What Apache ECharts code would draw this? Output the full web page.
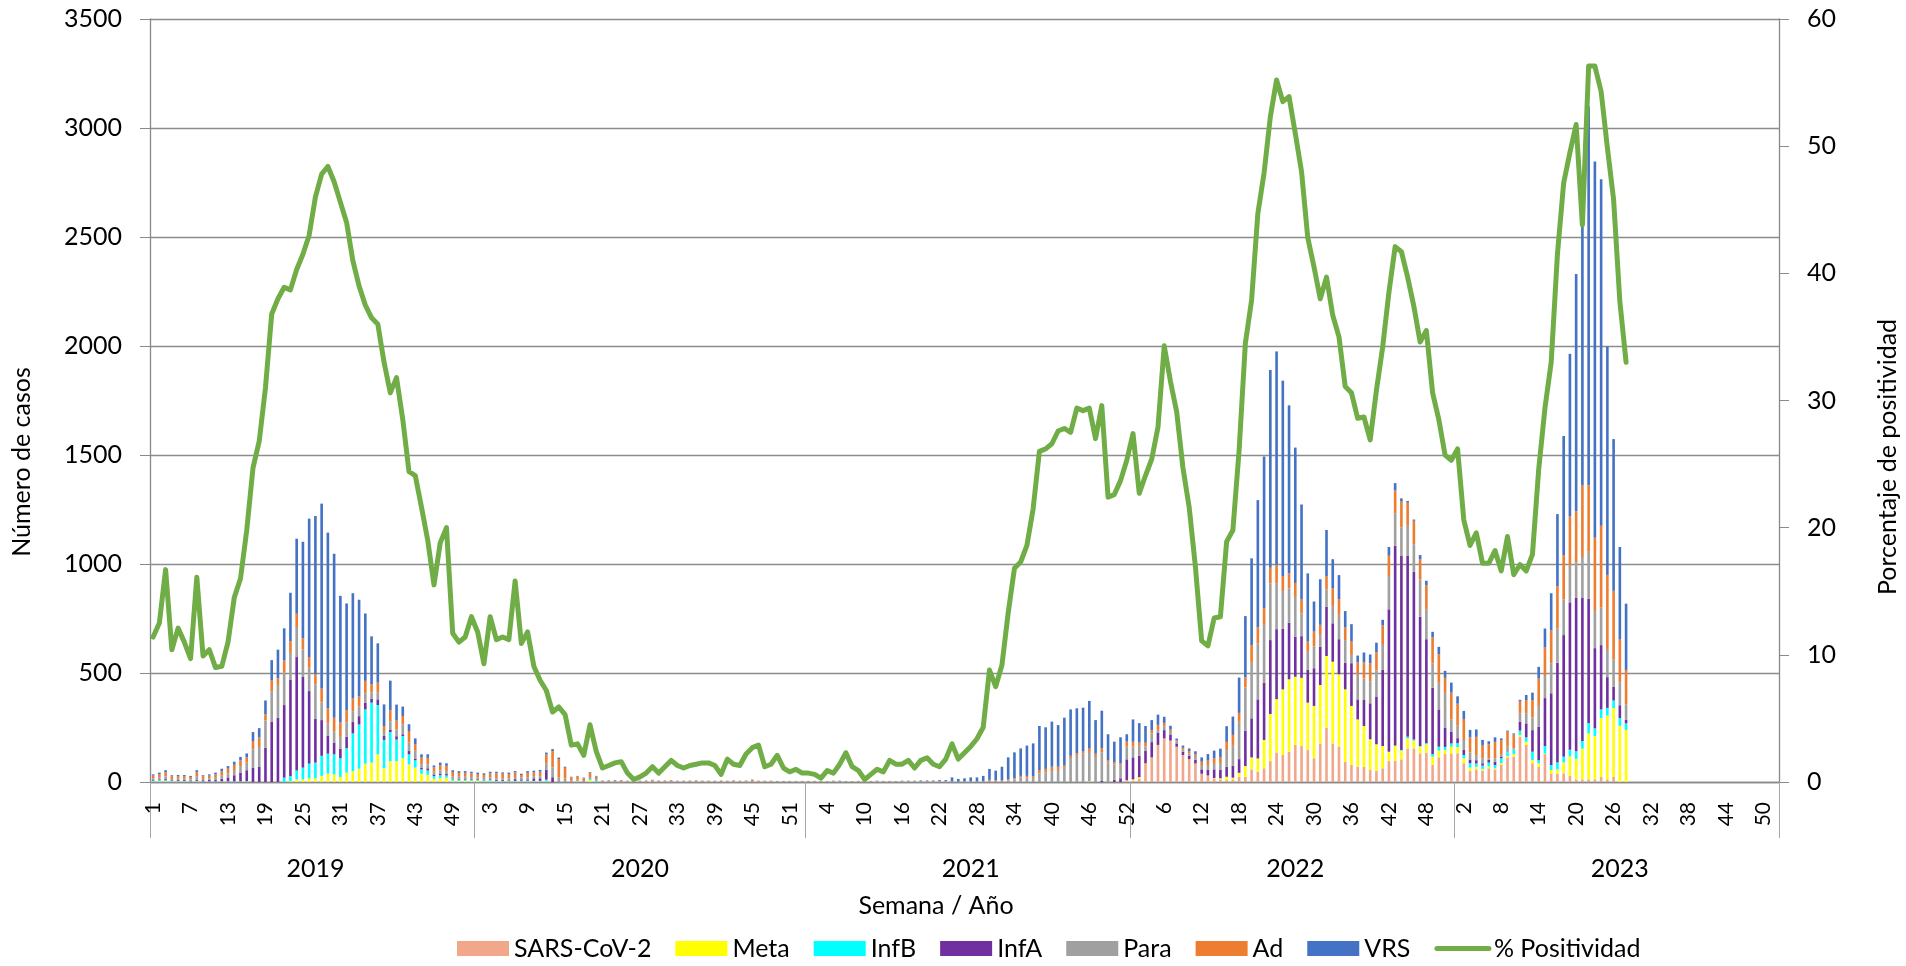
<!DOCTYPE html>
<html>
<head>
<meta charset="utf-8">
<script src="https://cdn.jsdelivr.net/npm/echarts@6/dist/echarts.min.js"></script>
<style>
  html, body { margin: 0; padding: 0; background: #fff; }
  #chart { width: 1906px; height: 966px; }
</style>
</head>
<body>
<div id="chart"></div>
<script>
// años y semanas epidemiológicas del eje x
const years = ['2019', '2020', '2021', '2022', '2023'];
const weeksPerYear = [52, 53, 52, 52, 52];

// casos por semana (2019 sem 1 -> 2023 sem 28), una línea por año
const sarsCov2 = [
  0,0,0,0,0,0,0,0,0,0, 0,0,0,0,0,0,0,0,0,0, 0,0,0,0,0,0,0,0,0,0, 0,0,0,0,0,0,0,0,0,0, 0,0,0,0,0,0,0,0,0,0, 0,0,
  0,0,0,0,0,0,0,0,0,0, 0,0,0,0,0,0,0,0,0,0, 0,0,0,0,0,0,0,0,0,0, 0,0,0,0,0,0,0,0,0,0, 0,0,0,0,0,0,0,0,0,0, 0,0,0,
  0,0,0,0,0,0,0,0,0,0, 0,0,0,0,0,0,0,0,0,0, 0,0,0,0,0,0,0,0,0,0, 0,0,0,0,0,0,0,0,0,0, 0,0,0,0,0,0,0,0,0,0, 0,9,
  6,14,86,113,170,200,190,162,124,105, 85,38,30,15,12,9,12,24,24,58, 47,63,96,135,124,139,170,165,147,109, 177,249,177,162,93,78,70,70,55,52, 63,96,98,104,154,154,131,135,78,113, 128,131,
  132,86,52,58,52,63,58,78,113,116, 208,170,86,70,128,37,37,40,28,12, 12,12,12,23,12,23,0,0
];
const meta = [
  2,3,3,2,2,2,1,2,1,1, 1,1,1,1,1,1,0,0,0,0, 0,0,4,12,12,17,17,28,38,35, 23,43,50,61,84,89,127,63,96,96, 109,81,66,38,33,15,18,20,5,5, 5,5,
  5,3,3,2,2,2,2,2,2,2, 2,3,0,0,0,0,3,0,8,0, 0,0,0,0,0,0,0,0,0,0, 0,0,0,0,0,0,0,0,0,0, 0,0,0,0,0,0,0,0,0,0, 0,0,0,
  0,0,0,0,0,0,0,0,0,0, 0,0,0,0,0,0,0,0,0,0, 0,0,0,0,0,0,0,0,0,0, 0,0,0,0,0,0,0,0,0,0, 0,0,0,0,0,3,0,0,0,0, 0,0,
  6,8,0,0,0,0,0,0,0,0, 0,0,0,3,5,15,8,18,49,55, 61,130,216,245,301,332,313,313,217,240, 268,329,375,332,332,271,217,187,141,121, 102,43,69,40,46,35,31,38,38,31, 18,31,
  28,23,14,12,8,8,5,8,6,12, 8,15,15,15,3,18,21,50,89,94, 141,211,199,270,293,316,258,239
];
const infB = [
  4,5,5,3,3,3,2,3,2,2, 2,2,2,2,2,3,0,0,0,0, 0,20,23,41,54,67,72,92,92,92, 86,112,173,203,249,275,226,130,133,99, 102,46,34,20,20,12,13,10,8,6, 6,5,
  5,5,8,3,3,3,3,4,4,3, 3,8,0,0,0,0,0,0,5,5, 0,0,0,0,0,0,0,0,0,0, 0,0,0,0,0,0,0,0,0,0, 0,0,0,0,0,0,0,0,0,0, 0,0,0,
  0,0,0,0,0,0,0,0,0,0, 0,0,0,0,0,0,0,0,0,0, 0,0,0,0,0,0,0,0,0,0, 0,0,0,0,0,0,0,0,0,0, 0,0,0,0,0,0,0,0,0,0, 0,0,
  0,0,0,0,0,0,0,0,0,0, 0,0,0,0,0,0,0,0,0,0, 0,0,0,0,0,0,0,0,0,0, 0,0,0,0,0,0,0,0,0,0, 0,0,0,3,8,6,3,5,12,18, 15,15,
  18,15,20,15,15,18,15,23,17,21, 20,20,38,15,34,23,32,26,31,35, 35,47,35,40,35,35,35,30
];
const infA = [
  3,4,5,3,4,4,4,6,5,6, 6,12,18,28,40,50,66,69,157,277, 295,333,443,520,416,333,202,164,81,54, 44,52,52,38,31,18,26,18,12,15, 8,15,8,8,10,8,8,8,3,3, 3,3,
  3,3,3,5,5,3,8,6,6,12, 12,45,22,0,0,0,0,0,0,0, 0,0,0,0,0,0,0,0,0,0, 0,0,0,0,0,0,0,0,0,0, 0,0,0,0,0,0,0,0,0,0, 0,0,0,
  0,0,0,0,0,0,0,0,0,0, 0,0,0,0,0,0,0,0,0,0, 0,0,0,0,0,0,0,0,0,0, 0,0,0,0,0,0,0,0,0,0, 0,0,0,0,0,0,0,5,0,10, 17,95,
  101,98,58,70,57,38,28,15,15,15, 18,20,25,40,40,46,54,63,162,179, 271,263,339,321,277,260,183,191,150,173, 176,226,176,161,122,196,92,119,165,219, 349,653,916,890,829,769,593,477,304,171, 87,54,
  23,23,15,15,11,12,15,8,0,0, 41,64,99,153,220,329,457,558,676,703, 656,570,368,295,141,63,59,16
];
const para = [
  8,10,12,6,6,6,6,13,6,8, 10,14,18,24,30,35,84,92,125,138, 150,148,122,138,127,107,157,81,58,50, 54,66,50,46,43,28,31,23,38,31, 46,38,35,15,18,12,14,12,10,10, 10,10,
  8,8,8,8,8,8,10,8,10,10, 10,30,45,20,15,6,8,4,10,8, 2,2,3,2,2,1,2,2,3,2, 2,3,2,2,2,3,2,2,2,2, 2,3,2,2,3,2,2,2,2,2, 2,2,2,
  2,2,2,1,2,2,1,2,2,1, 2,2,2,2,1,2,2,2,2,2, 2,3,3,3,2,3,3,3,4,5, 5,5,8,12,20,20,18,40,45,50, 55,65,110,120,130,135,115,130,90,70, 60,58,
  49,46,18,40,12,18,12,8,10,12, 12,20,23,25,30,76,92,171,199,255, 257,265,260,211,174,157,183,104,87,99, 54,80,80,112,104,38,116,99,99,119, 115,153,150,130,142,127,171,135,112,122, 161,57,
  57,46,34,23,23,8,15,8,26,5, 38,46,58,96,101,138,157,164,168,164, 188,216,171,173,129,124,105,70
];
const ad = [
  12,14,20,12,12,12,10,20,12,12, 16,20,22,24,26,24,38,43,28,52, 30,57,54,61,50,49,46,64,69,64, 66,57,58,44,57,38,46,23,50,41, 38,54,31,31,30,20,24,24,20,18, 18,17,
  15,14,18,22,20,20,20,12,20,18, 20,40,75,85,50,16,15,14,20,12, 4,5,4,6,3,2,3,4,5,4, 4,5,3,3,4,4,3,3,3,4, 3,4,3,4,6,3,3,3,2,2, 2,2,2,
  2,2,2,2,2,2,2,1,2,2, 2,2,2,2,2,2,2,2,2,2, 2,2,2,0,0,0,0,0,0,5, 4,3,5,5,8,8,8,15,15,20, 15,10,10,12,12,15,15,20,10,10, 8,23,
  23,15,18,15,23,15,10,5,8,10, 12,15,20,25,25,38,50,41,46,81, 73,76,72,84,69,69,64,64,43,69, 46,61,81,72,58,61,54,73,84,84, 89,93,104,119,102,107,92,112,119,131, 69,122,
  101,96,70,84,58,64,76,66,69,64, 54,61,80,125,131,150,194,203,226,234, 328,305,335,375,340,316,199,159
];
const vrs = [
  6,7,9,5,5,5,5,10,5,6, 8,12,12,14,16,18,41,43,64,92, 132,147,222,344,443,635,726,848,806,752, 581,489,483,444,309,220,180,99,136,73, 43,31,26,15,16,9,12,12,8,8, 8,7,
  7,7,7,7,6,7,7,6,8,7, 8,9,9,7,5,2,2,2,3,3, 1,1,2,1,1,1,1,1,2,1, 1,1,1,1,1,1,1,1,1,1, 1,1,1,1,2,1,1,1,1,1, 1,1,1,
  1,1,1,1,2,2,1,1,1,1, 1,2,1,1,1,2,2,2,3,3, 3,4,4,18,12,14,18,18,24,50, 43,62,100,119,126,139,151,202,191,207, 191,220,213,206,199,219,154,172,119,95, 120,34,
  102,89,77,46,47,28,18,9,10,12, 14,20,30,36,41,72,84,162,281,398, 584,696,907,979,896,771,621,436,313,138, 209,211,133,110,75,80,31,46,41,44, 26,40,34,15,8,6,20,21,26,34, 32,46,
  34,37,34,34,26,14,21,9,5,5, 8,23,34,54,87,171,331,546,746,1088, 1240,1739,1726,1589,1048,696,422,304
];
// % de positividad (eje derecho)
const positividad = [
  11.4,12.5,16.7,10.4,12.1,11.0,9.7,16.1,9.9,10.4, 9.0,9.1,11.0,14.5,16.0,19.8,24.7,26.8,31.0,36.8, 38.0,38.9,38.7,40.3,41.5,43.0,46.0,47.8,48.4,47.2, 45.6,44.0,41.0,39.0,37.5,36.5,36.0,33.0,30.6,31.8, 28.5,24.4,24.1,21.6,19.0,15.5,18.8,20.0,11.7,11.0, 11.4,13.0,
  11.8,9.3,13.0,11.2,11.4,11.2,15.8,10.9,11.8,9.1, 8.0,7.2,5.5,5.9,5.3,2.9,3.0,2.1,4.5,2.4, 1.1,1.3,1.5,1.6,0.7,0.2,0.4,0.7,1.2,0.7, 1.2,1.7,1.3,1.1,1.3,1.4,1.5,1.5,1.3,0.6, 1.8,1.4,1.3,2.2,2.7,2.9,1.2,1.4,2.1,1.1, 0.8,1.0,0.7,
  0.7,0.6,0.3,0.9,0.7,1.4,2.3,1.2,0.9,0.2, 0.6,1.0,0.8,1.7,1.4,1.4,1.7,1.1,1.7,1.9, 1.4,1.2,1.8,3.0,1.8,2.3,2.8,3.4,4.3,8.8, 7.5,9.2,13.3,16.8,17.3,18.6,21.5,26.0,26.2,26.6, 27.6,27.8,27.5,29.4,29.2,29.4,27.0,29.6,22.4,22.6, 23.7,25.3,
  27.4,22.7,24.1,25.4,27.9,34.3,31.5,29.1,24.7,21.6, 16.9,11.1,10.7,12.9,13.0,18.9,19.8,26.1,34.5,37.9, 44.7,47.9,52.3,55.2,53.5,53.9,51.0,48.0,42.8,40.5, 38.0,39.7,36.7,35.0,31.1,30.6,28.6,28.7,26.9,30.8, 34.2,38.5,42.1,41.7,39.7,37.4,34.6,35.5,30.6,28.5, 25.7,25.3,
  26.2,20.6,18.6,19.6,17.2,17.2,18.2,16.6,19.3,16.3, 17.1,16.6,17.9,24.6,29.4,33.0,41.5,47.1,49.5,51.7, 43.8,56.3,56.3,54.3,49.9,45.8,37.8,33.0
];

// categorías "año-semana"
const categories = [];
const yearStarts = [];
const yearMids = [];
years.forEach((y, i) => {
  yearStarts.push(categories.length);
  yearMids.push(categories.length + Math.floor(weeksPerYear[i] / 2));
  for (let w = 1; w <= weeksPerYear[i]; w++) categories.push(y + '-' + w);
});

const axisGray = '#898989';
const font = 'Lato';

function barSeries(name, data, color) {
  return {
    name: name,
    type: 'bar',
    stack: 'casos',
    barWidth: '42%',
    data: data,
    itemStyle: { color: color },
    emphasis: { disabled: true }
  };
}

const chart = echarts.init(document.getElementById('chart'));
chart.setOption({
  animation: false,
  textStyle: { fontFamily: font, color: '#000' },
  grid: { left: 150, right: 127, top: 19, bottom: 184, outerBoundsMode: 'none' },
  legend: {
    left: 457,
    top: 936,
    padding: 0,
    itemWidth: 52,
    itemHeight: 15,
    itemGap: 24,
    textStyle: { fontSize: 25, color: '#000', fontFamily: font },
    data: [
      { name: 'SARS-CoV-2', icon: 'rect' },
      { name: 'Meta', icon: 'rect' },
      { name: 'InfB', icon: 'rect' },
      { name: 'InfA', icon: 'rect' },
      { name: 'Para', icon: 'rect' },
      { name: 'Ad', icon: 'rect' },
      { name: 'VRS', icon: 'rect' },
      {
        name: '% Positividad',
        itemStyle: { color: 'rgba(0,0,0,0)', borderWidth: 0 },
        lineStyle: { width: 5, color: '#70AD47', cap: 'round' }
      }
    ]
  },
  xAxis: [
    {
      type: 'category',
      data: categories,
      boundaryGap: true,
      axisLine: { lineStyle: { color: axisGray, width: 1.3 } },
      axisTick: { interval: 0, length: 50, lineStyle: { color: '#A6A6A6' } },
      axisLabel: {
        interval: 5,
        rotate: 90,
        fontSize: 21,
        color: '#000',
        margin: 20,
        formatter: (v) => v.split('-')[1]
      },
      splitLine: { show: false }
    },
    {
      // segundo nivel: años
      type: 'category',
      data: categories,
      position: 'bottom',
      offset: 50,
      axisLine: { show: false },
      axisTick: {
        show: true,
        interval: (i) => yearStarts.includes(i),
        length: 56,
        lineStyle: { color: '#A6A6A6' }
      },
      axisLabel: {
        interval: (i) => yearMids.includes(i),
        fontSize: 25,
        color: '#000',
        margin: 24,
        formatter: (v) => v.split('-')[0]
      },
      splitLine: { show: false }
    }
  ],
  yAxis: [
    {
      type: 'value',
      min: 0,
      max: 3500,
      interval: 500,
      axisLine: { show: true, lineStyle: { color: axisGray, width: 1.3 } },
      axisTick: { show: true, length: 10, lineStyle: { color: axisGray } },
      axisLabel: { fontSize: 25, color: '#000', margin: 28, formatter: (v) => String(v) },
      splitLine: { lineStyle: { color: '#8C8C8C', width: 1.3 } }
    },
    {
      type: 'value',
      position: 'right',
      min: 0,
      max: 60,
      interval: 10,
      axisLine: { show: true, lineStyle: { color: axisGray, width: 1.3 } },
      axisTick: { show: true, length: 10, lineStyle: { color: axisGray } },
      axisLabel: { fontSize: 25, color: '#000', margin: 28, formatter: (v) => String(v) },
      splitLine: { show: false }
    }
  ],
  graphic: [
    {
      type: 'text', x: 22, y: 462, rotation: Math.PI / 2,
      style: { text: 'Número de casos', fontSize: 25, fontFamily: font, fill: '#000', align: 'center', verticalAlign: 'middle' }
    },
    {
      type: 'text', x: 1888, y: 457, rotation: Math.PI / 2,
      style: { text: 'Porcentaje de positividad', fontSize: 25, fontFamily: font, fill: '#000', align: 'center', verticalAlign: 'middle' }
    },
    {
      type: 'text', x: 936, y: 906,
      style: { text: 'Semana / Año', fontSize: 25, fontFamily: font, fill: '#000', align: 'center', verticalAlign: 'middle' }
    }
  ],
  series: [
    barSeries('SARS-CoV-2', sarsCov2, '#F2A78B'),
    barSeries('Meta', meta, '#FFFF00'),
    barSeries('InfB', infB, '#00FFFF'),
    barSeries('InfA', infA, '#7030A0'),
    barSeries('Para', para, '#A0A0A0'),
    barSeries('Ad', ad, '#ED7D31'),
    barSeries('VRS', vrs, '#4472C4'),
    {
      name: '% Positividad',
      type: 'line',
      yAxisIndex: 1,
      data: positividad,
      symbol: 'none',
      z: 5,
      itemStyle: { color: '#70AD47' },
      lineStyle: { color: '#70AD47', width: 5, join: 'round', cap: 'round' },
      emphasis: { disabled: true }
    }
  ]
});
</script>
</body>
</html>
